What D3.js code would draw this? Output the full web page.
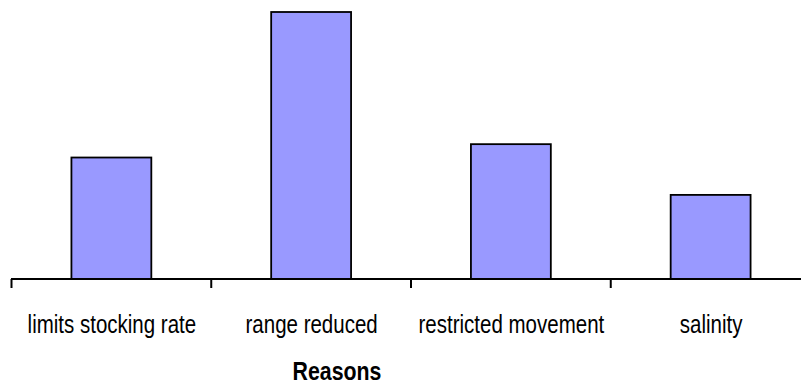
<!DOCTYPE html>
<html>
<head>
<meta charset="utf-8">
<script src="https://cdn.jsdelivr.net/npm/d3@7"></script>
<style>
  html, body { margin: 0; padding: 0; background: #fff; }
  svg { display: block; }
</style>
</head>
<body>
<svg id="chart" width="801" height="387"></svg>
<script>
const categories = ["limits stocking rate", "range reduced", "restricted movement", "salinity"];
const values = [9.1, 20, 10.1, 6.3];
const xTitle = "Reasons";

const svg = d3.select("#chart");
const font = "'Liberation Sans Narrow', 'Arial Narrow', 'Liberation Sans', Arial, sans-serif";

const x = d3.scaleBand().domain(categories).range([11, 810]).paddingInner(0.6).paddingOuter(0.3);
const y = d3.scaleLinear().domain([0, 20]).range([279, 12]);

svg.append("g")
  .selectAll("rect")
  .data(values)
  .join("rect")
  .attr("x", (d, i) => x(categories[i]) + 0.5)
  .attr("y", d => y(d))
  .attr("width", x.bandwidth())
  .attr("height", d => y(0) - y(d))
  .attr("fill", "#9999FF")
  .attr("stroke", "#000")
  .attr("stroke-width", 1.8);

// axis
const band = d3.scaleBand().domain(categories).range([11, 810]);
const axis = svg.append("g").attr("transform", `translate(0,${y(0)})`);
axis.append("line").attr("x1", 11).attr("x2", 810).attr("y1", 0).attr("y2", 0)
  .attr("stroke", "#000").attr("stroke-width", 2);
const tickPos = categories.map(c => band(c)).concat([band.range()[1]]);
axis.selectAll("line.tick").data(tickPos).join("line").attr("class", "tick")
  .attr("x1", d => d + 0.5).attr("x2", d => d + 0.5).attr("y1", 0).attr("y2", 9)
  .attr("stroke", "#000").attr("stroke-width", 2);
axis.selectAll("text").data(categories).join("text")
  .attr("transform", d => `translate(${band(d) + band.bandwidth() / 2 + 1},54) scale(0.82,1)`)
  .attr("text-anchor", "middle")
  .attr("font-family", font)
  .attr("font-size", 25)
  .attr("fill", "#000")
  .text(d => d);

svg.append("text")
  .attr("transform", "translate(337,380) scale(0.82,1)")
  .attr("text-anchor", "middle")
  .attr("font-family", font)
  .attr("font-size", 26)
  .attr("font-weight", "bold")
  .attr("fill", "#000")
  .text(xTitle);
</script>
</body>
</html>
